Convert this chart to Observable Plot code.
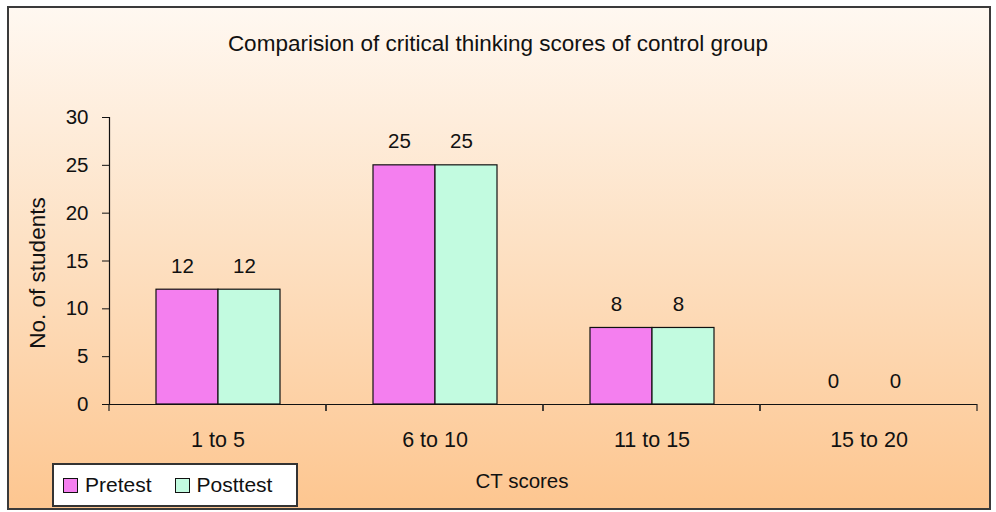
<!DOCTYPE html>
<html><head><meta charset="utf-8">
<script src="https://cdn.jsdelivr.net/npm/d3@7"></script>
<script src="https://cdn.jsdelivr.net/npm/@observablehq/plot@0.6"></script>
<style>
body{margin:0;background:#fff;}
#wrap{position:relative;width:996px;height:512px;overflow:hidden;font-family:"Liberation Sans",Arial,sans-serif;color:#111;}
#panel{position:absolute;left:7px;top:6px;width:984px;height:504px;border:2px solid #3a3a3a;box-sizing:border-box;background:linear-gradient(#fff8f1 0%,#fde2c6 45%,#fdc690 100%);}
#chart{position:absolute;left:0;top:0;}
#title{position:absolute;left:0;width:996px;top:31px;line-height:26px;text-align:center;font-size:22.5px;}
#xlabel{position:absolute;left:462px;width:120px;top:469px;line-height:24px;text-align:center;font-size:20.5px;}
#legend{position:absolute;left:52px;top:463px;width:246px;height:44px;border:2px solid #333;background:#fff;box-sizing:border-box;display:flex;align-items:center;padding-left:9px;font-size:21px;}
.sw{display:inline-block;width:15px;height:15px;border:1.5px solid #111;margin-right:7px;box-sizing:border-box;}
.item{display:flex;align-items:center;margin-right:23px;}
</style></head>
<body>
<div id="wrap">
  <div id="panel"></div>
  <div id="title"></div>
  <div id="chart"></div>
  <div id="xlabel"></div>
  <div id="legend"></div>
</div>
<script>
const titleText = "Comparision of critical thinking scores of control group";
const categories = ["1 to 5", "6 to 10", "11 to 15", "15 to 20"];
const seriesNames = ["Pretest", "Posttest"];
const pretest = [12, 25, 8, 0];
const posttest = [12, 25, 8, 0];
const yTicks = [0, 5, 10, 15, 20, 25, 30];
const xLabel = "CT scores";
const yLabel = "No. of students";
const colors = ["#f47fef", "#c2fbe0"];

const table = [];
categories.forEach((c, i) => {
  table.push({cat: c, series: seriesNames[0], value: pretest[i]});
  table.push({cat: c, series: seriesNames[1], value: posttest[i]});
});

document.getElementById("title").textContent = titleText;
document.getElementById("xlabel").textContent = xLabel;
const leg = document.getElementById("legend");
seriesNames.forEach((s, i) => {
  const it = document.createElement("span");
  it.className = "item";
  const sw = document.createElement("span");
  sw.className = "sw";
  sw.style.background = colors[i];
  it.appendChild(sw);
  it.appendChild(document.createTextNode(s));
  leg.appendChild(it);
});

function boundaryTicks(index, scales, values, dimensions) {
  const {marginLeft} = dimensions;
  const g = d3.create("svg:g");
  const y0 = scales.y(0);
  const left = marginLeft;
  const right = marginLeft + scales.fx.bandwidth();
  [left, right].forEach(xp => {
    g.append("line").attr("x1", xp).attr("x2", xp).attr("y1", y0).attr("y2", y0 + 7)
      .attr("stroke", "#222").attr("stroke-width", 1.2);
  });
  return g.node();
}

const chart = Plot.plot({
  width: 996,
  height: 512,
  marginLeft: 108,
  marginRight: 19,
  marginTop: 117,
  marginBottom: 108,
  style: {background: "transparent", fontFamily: "Liberation Sans, Arial, sans-serif", fontSize: "20.5px", color: "#111", overflow: "visible"},
  fx: {domain: categories, padding: 0, label: null},
  x: {domain: seriesNames, paddingInner: 0, paddingOuter: 0.736, axis: null},
  y: {domain: [0, 30], label: null},
  color: {domain: seriesNames, range: colors},
  marks: [
    Plot.barY(table, {fx: "cat", x: "series", y: "value", fill: "series", stroke: "#111", strokeWidth: 1.2}),
    Plot.ruleY([0], {stroke: "#111", strokeWidth: 1.2}),
    Plot.frame({anchor: "left", facetAnchor: "left", stroke: "#111", strokeWidth: 1.2}),
    boundaryTicks,
    Plot.axisY({ticks: yTicks, tickSize: 7, tickPadding: 14, label: null, tickFormat: d => String(d), stroke: "#111"}),
    Plot.axisFx({anchor: "bottom", tickSize: 0, tickPadding: 27, label: null, fontSize: "21.5px"}),
    Plot.text(table, {fx: "cat", x: "series", y: "value", text: d => String(d.value), dy: -23.5, dx: -5, fill: "#111", fontSize: "20.5px"}),
    Plot.text([{cat: categories[0]}], {fx: "cat", frameAnchor: "left", textAnchor: "middle", text: () => yLabel, rotate: -90, dx: -72, dy: 12, fill: "#111", fontSize: "22.5px"})
  ]
});
document.getElementById("chart").appendChild(chart);
</script>
</body></html>
